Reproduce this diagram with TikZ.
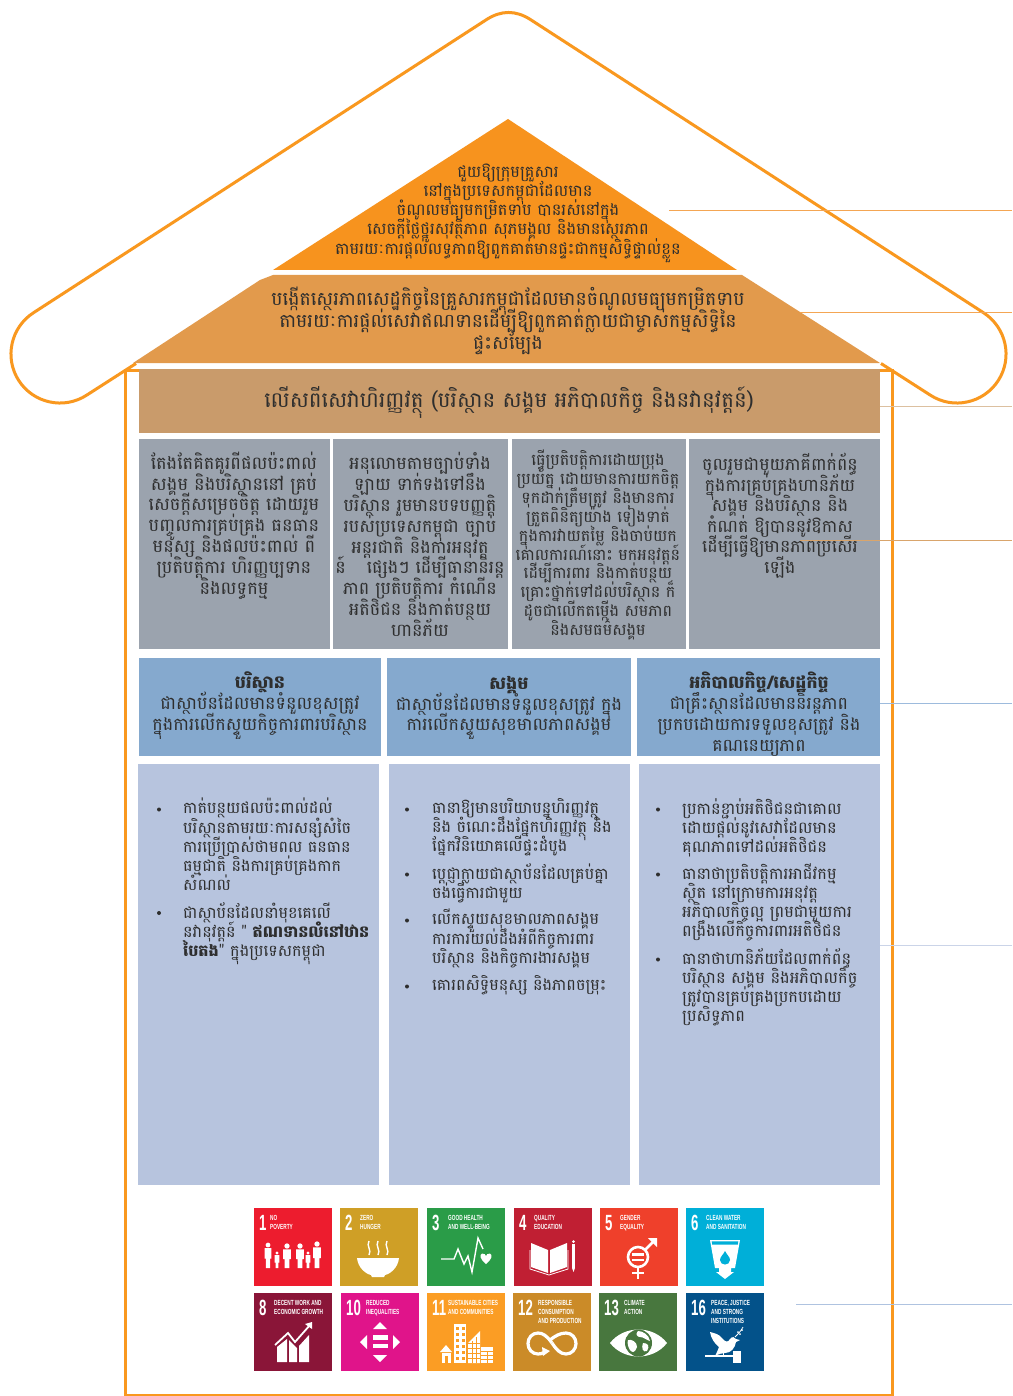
\documentclass[tikz,border=0pt]{standalone}
\usepackage{fontspec}
\newfontfamily\km[Script=Khmer]{Battambang}
\setmainfont{Liberation Sans}
\newfontfamily\sdglab[FakeStretch=0.64]{Liberation Sans}
\newfontfamily\sdgnum[FakeStretch=0.6]{Liberation Sans}
\definecolor{roofc}{HTML}{F9981F}
\definecolor{triA}{HTML}{F7931E}
\definecolor{triB}{HTML}{E29A4C}
\definecolor{banc}{HTML}{C99B6B}
\definecolor{greyc}{HTML}{9BA3AE}
\definecolor{bluec}{HTML}{85A9CE}
\definecolor{lightc}{HTML}{B7C4DE}
\definecolor{textc}{HTML}{2E2E2E}
\definecolor{leadA}{HTML}{F4A654}
\definecolor{leadB}{HTML}{DCC0A0}
\definecolor{leadC}{HTML}{9DBBDD}
\definecolor{leadD}{HTML}{CBD4E8}
\definecolor{leadE}{HTML}{AFC3E0}
\definecolor{leadF}{HTML}{D9A56C}
\definecolor{sa}{HTML}{ED1C2E}
\definecolor{sb}{HTML}{CF9F26}
\definecolor{sc}{HTML}{2A9C48}
\definecolor{sd}{HTML}{C01F33}
\definecolor{se}{HTML}{EF402B}
\definecolor{sf}{HTML}{00AFD8}
\definecolor{sg}{HTML}{8A1538}
\definecolor{sh}{HTML}{E0148A}
\definecolor{si}{HTML}{FB9D24}
\definecolor{sj}{HTML}{CB8B28}
\definecolor{sk}{HTML}{48773E}
\definecolor{sl}{HTML}{03528A}
\newcommand{\kfont}[2]{\km\fontsize{#1}{#2}\selectfont\lineskiplimit=-100pt\relax\lineskip=0pt\relax}
\tikzset{
  ktext/.style 2 args={align=center,inner sep=0pt,text=textc,font={\kfont{#1}{#2}}},
  kleft/.style 2 args={ktext={#1}{#2},align=left,anchor=north west},
  wall/.style={draw=roofc,line width=3pt},
  leader/.style={line width=1pt},
  dot/.style={circle,fill=textc,inner sep=0pt,minimum size=4pt},
  tilenum/.style={inner sep=0pt,anchor=base west,text=white,font=\sdgnum\bfseries\fontsize{22}{22}\selectfont},
  tiletxt/.style={inner sep=0pt,anchor=north west,align=left,text=white,font=\sdglab\bfseries\fontsize{7.4}{9}\selectfont},
}
\newcommand{\sdgtile}[8]{%
  \begin{scope}[shift={(#2,#3)}]
    \fill[#4] (0,0) rectangle (78,78);
    \node[tilenum] (num#1) at (5,22) {#5};
    \node[tiletxt] (lab#1) at (#6,6.8) {#7};
    \begin{scope}[fill=white,draw=white]#8\end{scope}
  \end{scope}}
\newcommand{\person}[4]{%
  \fill (#1,#2) circle[radius=#3*0.7];
  \fill ({#1-#3},{#2+#3*0.9}) -- ({#1+#3},{#2+#3*0.9}) -- ({#1+#3},{(#2+#4)/2+2}) -- ({#1+#3*.6},{(#2+#4)/2+2}) -- ({#1+#3*.6},#4) -- ({#1-#3*.6},#4) -- ({#1-#3*.6},{(#2+#4)/2+2}) -- ({#1-#3},{(#2+#4)/2+2}) -- cycle;}
\begin{document}
\begin{tikzpicture}[x=1pt,y=-1pt]
\useasboundingbox (0,0) rectangle (1012,1396);
\fill[white] (0,0) rectangle (1012,1396);
% roof outline
\draw[wall,line join=round]
  (136,363.5) -- (86.6,395.2)
  .. controls (63.9,409.9) and (33.5,403.3) .. (18.8,380.6)
  .. controls (4.1,357.9) and (10.7,327.5) .. (33.4,312.8)
  -- (486.5,19.6)
  .. controls (501.2,10.1) and (515.8,10.1) .. (530.5,19.6)
  -- (983.6,312.8)
  .. controls (1006.3,327.5) and (1012.9,357.9) .. (998.2,380.6)
  .. controls (983.5,403.3) and (953.1,409.9) .. (930.4,395.2)
  -- (881,363.5);
\draw[wall] (139,370.5) -- (125,370.5) -- (125,1395) -- (892,1395) -- (892,370.5) -- (880,370.5);
% panels
\path[fill=triA] (508,119) -- (737,270) -- (273,270) -- cycle;
\path[fill=triB] (273,275) -- (742,275) -- (880,363) -- (133,363) -- (260,280) -- cycle;
\fill[banc] (139,369) rectangle (880,433);
\fill[greyc] (139,439) rectangle (329.5,648.5);
\fill[greyc] (333,439) rectangle (507.5,648.5);
\fill[greyc] (511.5,439) rectangle (685.5,648.5);
\fill[greyc] (689,439) rectangle (880,648.5);
\fill[bluec] (139,658) rectangle (381,756);
\fill[bluec] (387,658) rectangle (631,756);
\fill[bluec] (637,658) rectangle (880,756);
\fill[lightc] (138,764) rectangle (379,1184.5);
\fill[lightc] (389,764) rectangle (630,1184.5);
\fill[lightc] (639,764) rectangle (880,1184.5);
% leaders
\coordinate (a1) at (669,211); \coordinate (b1) at (1012,211);
\coordinate (a2) at (800,312); \coordinate (b2) at (1012,312);
\coordinate (a3) at (880,406); \coordinate (b3) at (1012,406);
\coordinate (a4) at (800,540.5); \coordinate (b4) at (1012,540.5);
\coordinate (a5) at (880,703); \coordinate (b5) at (1012,703);
\coordinate (a6) at (880,945); \coordinate (b6) at (1012,945);
\coordinate (a7) at (796,1304); \coordinate (b7) at (1012,1304);
\draw[leader,leadA] (a1) -- (b1);
\draw[leader,leadA] (a2) -- (b2);
\draw[leader,leadB] (a3) -- (b3);
\draw[leader,leadF] (a4) -- (b4);
\draw[leader,leadC] (a5) -- (b5);
\draw[leader,leadD] (a6) -- (b6);
\draw[leader,leadE] (a7) -- (b7);
% texts
\node[ktext={16.2}{19.2}] (t1) at (508,213) {ជួយឱ្យក្រុមគ្រួសារ\\នៅក្នុងប្រទេសកម្ពុជាដែលមាន\\ចំណូលមធ្យមកម្រិតទាប បានរស់នៅក្នុង\\សេចក្តីថ្លៃថ្នូរសុវត្ថិភាព សុភមង្គល និងមានស្ថេរភាព\\តាមរយៈការផ្តល់លទ្ធភាពឱ្យពួកគាត់មានផ្ទះជាកម្មសិទ្ធិផ្ទាល់ខ្លួន};
\node[ktext={18.9}{22}] (t2) at (508,321) {បង្កើតស្ថេរភាពសេដ្ឋកិច្ចនៃគ្រួសារកម្ពុជាដែលមានចំណូលមធ្យមកម្រិតទាប\\តាមរយៈការផ្តល់សេវាឥណទានដើម្បីឱ្យពួកគាត់ក្លាយជាម្ចាស់កម្មសិទ្ធិនៃ\\ផ្ទះសម្បែង};
\node[ktext={21.4}{24}] (t3) at (509,402) {លើសពីសេវាហិរញ្ញវត្ថុ (បរិស្ថាន សង្គម អភិបាលកិច្ច និងនវានុវត្តន៍)};
\node[ktext={17.8}{20.8}] (g1) at (234,525.5) {តែងតែគិតគូរពីផលប៉ះពាល់\\សង្គម និងបរិស្ថាននៅ គ្រប់\\សេចក្តីសម្រេចចិត្ត ដោយរួម\\បញ្ចូលការគ្រប់គ្រង ធនធាន\\មនុស្ស និងផលប៉ះពាល់ ពី\\ប្រតិបត្តិការ ហិរញ្ញប្បទាន\\និងលទ្ធកម្ម};
\node[ktext={17.6}{20.8}] (g2) at (420,544.5) {អនុលោមតាមច្បាប់ទាំង\\ឡាយ ទាក់ទងទៅនឹង\\បរិស្ថាន រួមមានបទបញ្ញត្តិ\\របស់ប្រទេសកម្ពុជា ច្បាប់\\អន្តរជាតិ និងការអនុវត្ត\\ន៍\hspace{1.2em}ផ្សេងៗ ដើម្បីធានានិរន្ត\\ភាព ប្រតិបត្តិការ កំណើន\\អតិថិជន និងកាត់បន្ថយ\\ហានិភ័យ};
\node[ktext={16}{18.9}] (g3) at (598,545) {ធ្វើប្រតិបត្តិការដោយប្រុង\\ប្រយ័ត្ន ដោយមានការយកចិត្ត\\ទុកដាក់ត្រឹមត្រូវ និងមានការ\\ត្រួតពិនិត្យយ៉ាង ទៀងទាត់\\ក្នុងការវាយតម្លៃ និងចាប់យក\\គោលការណ៍នោះ មកអនុវត្តន៍\\ដើម្បីការពារ និងកាត់បន្ថយ\\គ្រោះថ្នាក់ទៅដល់បរិស្ថាន ក៏\\ដូចជាលើកតម្កើង សមភាព\\និងសមធម៌សង្គម};
\node[ktext={17.4}{20.5}] (g4) at (780,516) {ចូលរួមជាមួយភាគីពាក់ព័ន្ធ\\ក្នុងការគ្រប់គ្រងហានិភ័យ\\សង្គម និងបរិស្ថាន និង\\កំណត់ ឱ្យបាននូវឱកាស\\ដើម្បីធ្វើឱ្យមានភាពប្រសើរ\\ឡើង};
\node[ktext={17.6}{20.8}] (h1) at (260,705.5) {\textbf{បរិស្ថាន}\\ជាស្ថាប័នដែលមានទំនួលខុសត្រូវ\\ក្នុងការលើកស្ទួយកិច្ចការពារបរិស្ថាន};
\node[ktext={17.6}{20.8}] (h2) at (509,708) {\textbf{សង្គម}\\ជាស្ថាប័នដែលមានទំនួលខុសត្រូវ ក្នុង\\ការលើកស្ទួយសុខមាលភាពសង្គម};
\node[ktext={17.4}{20.8}] (h3) at (759,714) {\textbf{អភិបាលកិច្ច/សេដ្ឋកិច្ច}\\ជាគ្រឹះស្ថានដែលមាននិរន្តភាព\\ប្រកបដោយការទទួលខុសត្រូវ និង\\គណនេយ្យភាព};
% column 1
\node[dot] (d11) at (159,809.5) {};
\node[dot] (d12) at (159,913) {};
\node[kleft={16}{19.2}] (b11) at (183,798) {កាត់បន្ថយផលប៉ះពាល់ដល់\\បរិស្ថានតាមរយៈការសន្សំសំចៃ\\ការប្រើប្រាស់ថាមពល ធនធាន\\ធម្មជាតិ និងការគ្រប់គ្រងកាក\\សំណល់};
\node[kleft={16}{19.2}] (b12) at (183,902) {ជាស្ថាប័នដែលនាំមុខគេលើ\\នវានុវត្តន៍ " \textbf{ឥណទានលំនៅឋាន}\\\textbf{បៃតង}" ក្នុងប្រទេសកម្ពុជា};
% column 2
\node[dot] (d21) at (407,809.5) {};
\node[dot] (d22) at (407,874.5) {};
\node[dot] (d23) at (407,920.5) {};
\node[dot] (d24) at (407,986.5) {};
\node[kleft={16}{19.2}] (b21) at (432,798) {ធានាឱ្យមានបរិយាបន្នហិរញ្ញវត្ថុ\\និង ចំណេះដឹងផ្នែកហិរញ្ញវត្ថុ និង\\ផ្នែកវិនិយោគលើផ្ទះដំបូង};
\node[kleft={16}{19.2}] (b22) at (432,863) {ប្តេជ្ញាក្លាយជាស្ថាប័នដែលគ្រប់គ្នា\\ចង់ធ្វើការជាមួយ};
\node[kleft={16}{19.2}] (b23) at (432,909) {លើកស្ទួយសុខមាលភាពសង្គម\\ការការយល់ដឹងអំពីកិច្ចការពារ\\បរិស្ថាន និងកិច្ចការងារសង្គម};
\node[kleft={16}{19.2}] (b24) at (432,975) {គោរពសិទ្ធិមនុស្ស និងភាពចម្រុះ};
% column 3
\node[dot] (d31) at (658,809.5) {};
\node[dot] (d32) at (658,874.5) {};
\node[dot] (d33) at (658,959.5) {};
\node[kleft={16.2}{19.2}] (b31) at (682,798) {ប្រកាន់ខ្ជាប់អតិថិជនជាគោល\\ដោយផ្តល់នូវសេវាដែលមាន\\គុណភាពទៅដល់អតិថិជន};
\node[kleft={16.2}{19.2}] (b32) at (682,863) {ធានាថាប្រតិបត្តិការអាជីវកម្ម\\ស្ថិត នៅក្រោមការអនុវត្ត\\អភិបាលកិច្ចល្អ ព្រមជាមួយការ\\ពង្រឹងលើកិច្ចការពារអតិថិជន};
\node[kleft={16.2}{19.2}] (b33) at (682,948) {ធានាថាហានិភ័យដែលពាក់ព័ន្ធ\\បរិស្ថាន សង្គម និងអភិបាលកិច្ច\\ត្រូវបានគ្រប់គ្រងប្រកបដោយ\\ប្រសិទ្ធភាព};
% SDG tiles
\sdgtile{A}{254}{1208}{sa}{1}{16}{NO\\POVERTY}{
  \person{14}{37}{3.4}{60}\person{23}{45}{2.4}{60}\person{33}{38}{3.8}{60}\person{46}{38}{3.8}{60}\person{54}{45}{2.4}{60}\person{63}{36}{3.8}{60}}
\sdgtile{B}{340}{1208}{sb}{2}{20}{ZERO\\HUNGER}{
  \fill (17,50) -- (59,50) .. controls (58,60) and (50,66) .. (45,67) -- (44,69) -- (32,69) -- (31,67) .. controls (26,66) and (18,60) .. (17,50) -- cycle;
  \draw[line width=1.4pt] (29,33) .. controls (26,38) and (32,42) .. (29,47);
  \draw[line width=1.4pt] (38,33) .. controls (35,38) and (41,42) .. (38,47);
  \draw[line width=1.4pt] (47,33) .. controls (44,38) and (50,42) .. (47,47);}
\sdgtile{C}{427}{1208}{sc}{3}{21}{GOOD HEALTH\\AND WELL-BEING}{
  \draw[line width=1.4pt] (14,51) -- (27,51) -- (31,41) -- (37,56) -- (41,48) -- (45,64) -- (51,30) -- (56,41);
  \fill (59,56) .. controls (53,51) and (52,47) .. (55,45.5) .. controls (57,45) and (59,47) .. (59,48) .. controls (59,47) and (61,45) .. (63,45.5) .. controls (66,47) and (65,51) .. (59,56) -- cycle;}
\sdgtile{D}{514}{1208}{sd}{4}{20}{QUALITY\\EDUCATION}{
  \fill (17,35) -- (34,42) -- (34,65) -- (17,59) -- cycle;
  \fill (53,35) -- (36,42) -- (36,65) -- (53,59) -- cycle;
  \draw[line width=.8pt] (16,42) -- (16,61) -- (35,67) -- (54,61) -- (54,42);
  \fill (58,36) rectangle (61,60);
  \fill (58,60) -- (61,60) -- (59.5,64) -- cycle;
  \fill (59.5,33.5) circle[radius=1.5];}
\sdgtile{E}{600}{1208}{se}{5}{20}{GENDER\\EQUALITY}{
  \draw[line width=2.6pt] (38,49) circle[radius=10];
  \draw[line width=2.6pt] (38,59) -- (38,71);
  \draw[line width=2.6pt] (32,65) -- (44,65);
  \draw[line width=2.6pt] (45,42) -- (55,32);
  \fill (48,30) -- (57,30) -- (57,39) -- cycle;
  \fill (32,45) rectangle (44,47.5);
  \fill (32,50.5) rectangle (44,53);}
\sdgtile{F}{686}{1208}{sf}{6}{20}{CLEAN WATER\\AND SANITATION}{
  \fill (24,32) -- (54,32) -- (49,60) -- (45,60) -- (45,64) -- (48,64) -- (39,71) -- (30,64) -- (33,64) -- (33,60) -- (29,60) -- cycle;
  \fill[sf] (25.7,33.3) -- (52.3,33.3) -- (51.8,36.5) -- (26.2,36.5) -- cycle;
  \fill[sf] (39,43) .. controls (41,47) and (44,49) .. (44,52) .. controls (44,58) and (34,58) .. (34,52) .. controls (34,49) and (37,47) .. (39,43) -- cycle;}
\sdgtile{G}{254}{1293}{sg}{8}{20}{DECENT WORK AND\\ECONOMIC GROWTH}{
  \fill (23,54) -- (33,46) -- (33,69) -- (23,69) -- cycle;
  \fill (35,47) -- (43,55) -- (43,69) -- (35,69) -- cycle;
  \fill (45,53) -- (55,42) -- (55,69) -- (45,69) -- cycle;
  \draw[line width=1.8pt] (21,52) -- (34,40) -- (41,49) -- (56,32);
  \fill (51,31) -- (58,29) -- (58,36) -- cycle;}
\sdgtile{H}{341}{1293}{sh}{10}{25}{REDUCED\\INEQUALITIES}{
  \fill (39,29) -- (46,36) -- (32,36) -- cycle;
  \fill (32,42) rectangle (47,46.5);
  \fill (32,50.5) rectangle (47,55);
  \fill (39,69) -- (46,62) -- (32,62) -- cycle;
  \fill (19,49) -- (26,42) -- (26,56) -- cycle;
  \fill (59,49) -- (52,42) -- (52,56) -- cycle;}
\sdgtile{I}{427}{1293}{si}{11}{21}{SUSTAINABLE CITIES\\AND COMMUNITIES}{
  \fill (27,31) rectangle (39,70);
  \foreach \u in {34,40,46,52,58,64} {\fill[si] (29,\u) rectangle (32,{\u+3}); \fill[si] (34.5,\u) rectangle (37.5,{\u+3});}
  \fill (13,59) -- (19,52) -- (25,59) -- cycle;
  \fill (14.5,60) rectangle (24,70);
  \fill[si] (18,63) rectangle (21,70);
  \fill (41,50) -- (53,38) -- (53,70) -- (41,70) -- cycle;
  \foreach \u in {50,55,60,65} {\draw[si,line width=.5pt] (41,\u) -- (53,\u);}
  \draw[si,line width=.5pt] (45,48) -- (45,70);
  \draw[si,line width=.5pt] (49,44) -- (49,70);
  \fill (54,54) rectangle (66,70);
  \foreach \u in {58,62,66} {\draw[si,line width=.7pt] (54,\u) -- (66,\u);}
  \draw[si,line width=.7pt] (60,58) -- (60,70);}
\sdgtile{J}{513}{1293}{sj}{12}{25}{RESPONSIBLE\\CONSUMPTION\\AND PRODUCTION}{
  \draw[line width=3.2pt] (39,50) .. controls (34,43) and (30,40) .. (25,40) .. controls (19,40) and (15,45) .. (15,50.5) .. controls (15,56) and (19,61) .. (25,61) .. controls (27,61) and (29,60.5) .. (31,59.5);
  \fill (29,54) -- (37,58) -- (30,63) -- cycle;
  \draw[line width=3.2pt] (37,47) .. controls (42,43) and (47,40) .. (53,40) .. controls (59,40) and (63,45) .. (63,50.5) .. controls (63,56) and (59,61) .. (53,61) .. controls (47,61) and (43,56) .. (39,50);}
\sdgtile{K}{599}{1293}{sk}{13}{25}{CLIMATE\\ACTION}{
  \fill (11,50) .. controls (25,32) and (54,32) .. (68,50) .. controls (54,68) and (25,68) .. (11,50) -- cycle;
  \fill[sk] (39.5,50) circle[radius=13.5];
  \fill (39,38) .. controls (44,38) and (50,42) .. (51,48) .. controls (47,47) and (45,44) .. (41,44) .. controls (38,44) and (36,41) .. (39,38) -- cycle;
  \fill (29,47) .. controls (33,46) and (38,49) .. (38,54) .. controls (36,60) and (33,60) .. (31,57) .. controls (29,54) and (28,50) .. (29,47) -- cycle;
  \fill (44,50) .. controls (49,50) and (51,53) .. (48,58) .. controls (44,60) and (42,55) .. (44,50) -- cycle;}
\sdgtile{L}{686}{1293}{sl}{16}{25}{PEACE, JUSTICE\\AND STRONG\\INSTITUTIONS}{
  \fill (24,39) .. controls (28,40) and (33,41) .. (36,45) .. controls (39,49) and (42,50) .. (44,46) .. controls (46,43) and (49,44) .. (50,46) -- (54,47) -- (50,49) .. controls (49,55) and (45,60) .. (39,60) .. controls (36,60) and (33,61) .. (29,63) .. controls (31,59) and (32,57) .. (33,54) .. controls (28,50) and (25,45) .. (24,39) -- cycle;
  \draw[line width=.8pt] (49,44) .. controls (52,41) and (55,38) .. (57,34);
  \fill (54,41) circle[radius=1]; \fill (56,37) circle[radius=1]; \fill (52,39) circle[radius=1];
  \draw[line width=1.6pt] (19,63) -- (47,63);
  \fill (47,57.5) rectangle (55,70);
  \draw[line width=.8pt] (37,60) -- (37,63);}
\end{tikzpicture}
\end{document}
